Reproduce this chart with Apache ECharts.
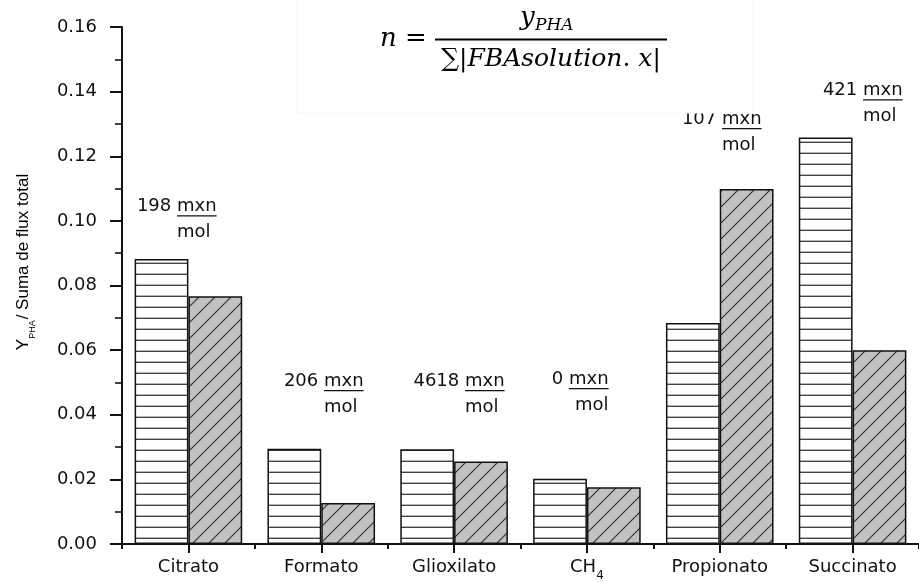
<!DOCTYPE html>
<html lang="es">
<head>
<meta charset="utf-8">
<title>Y PHA / Suma de flux total</title>
<script src="https://cdn.jsdelivr.net/npm/echarts@6/dist/echarts.min.js"></script>
<style>
  html, body { margin: 0; padding: 0; background: #fff; }
  #chart { width: 919px; height: 582px; }
</style>
</head>
<body>
<div id="chart"></div>
<script>
// Substrates on the category axis
const categories = ['Citrato', 'Formato', 'Glioxilato', 'CH4', 'Propionato', 'Succinato'];
// Y_PHA / total flux (striped bars)
const yieldStriped = [0.0882, 0.0295, 0.0293, 0.0202, 0.0684, 0.1258];
// Y_PHA / total flux (hatched bars)
const yieldHatched = [0.0767, 0.0127, 0.0255, 0.0176, 0.1099, 0.0600];
// mxn per mol, written above each pair of bars
const mxnPerMol = [198, 206, 4618, 0, 107, 421];
// value axis range and tick step
const yMin = 0, yMax = 0.16, yStep = 0.02;

// placement of the "N mxn / mol" notes: height in axis units and
// horizontal shift (px) of the word "mxn" from the category centre
const noteLevel = [0.1045, 0.0504, 0.0504, 0.0510, 0.1315, 0.1404];
const noteShift = [-11, 2.5, 11, -18, 2.5, 10];
const molShift = [0, 0, 0, 6, 0, 0];

const SANS = '"DejaVu Sans", sans-serif';
const INK = '#111';

// fill tiles: white with horizontal rules, grey with "/" hatching
function stripeTile() {
  const c = document.createElement('canvas');
  c.width = 4; c.height = 11;
  const g = c.getContext('2d');
  g.fillStyle = '#fff';
  g.fillRect(0, 0, 4, 11);
  g.strokeStyle = '#444';
  g.lineWidth = 1.4;
  g.beginPath(); g.moveTo(0, 10.3); g.lineTo(4, 10.3); g.stroke();
  return c;
}
function hatchTile() {
  const s = 16;
  const c = document.createElement('canvas');
  c.width = s; c.height = s;
  const g = c.getContext('2d');
  g.fillStyle = '#c2c2c2';
  g.fillRect(0, 0, s, s);
  g.strokeStyle = '#333';
  g.lineWidth = 1.2;
  g.beginPath();
  g.moveTo(0, s); g.lineTo(s, 0);
  g.moveTo(-2, 2); g.lineTo(2, -2);
  g.moveTo(s - 2, s + 2); g.lineTo(s + 2, s - 2);
  g.stroke();
  return c;
}

const measureCtx = document.createElement('canvas').getContext('2d');
function textWidth(t, font) { measureCtx.font = font; return measureCtx.measureText(t).width; }

const chart = echarts.init(document.getElementById('chart'), null, { renderer: 'canvas' });

const catLabelRich = {
  a: { fontFamily: SANS, fontSize: 18, color: INK, verticalAlign: 'top', lineHeight: 18 },
  s: { fontFamily: SANS, fontSize: 12, color: INK, verticalAlign: 'top', lineHeight: 12, padding: [12, 0, 0, 0] }
};

chart.setOption({
  animation: false,
  backgroundColor: '#fff',
  grid: { left: 122, top: 27, width: 802, height: 519, containLabel: false },
  xAxis: [
    {
      type: 'category',
      data: categories,
      gridIndex: 0,
      position: 'bottom',
      axisLine: { show: true, lineStyle: { color: INK, width: 2 } },
      axisTick: { show: true, alignWithLabel: true, length: 9, lineStyle: { color: INK, width: 2 } },
      axisLabel: {
        margin: 14,
        formatter: v => v === 'CH4' ? '{a|CH}{s|4}' : '{a|' + v + '}',
        rich: catLabelRich
      },
      splitLine: { show: false }
    },
    {
      // short ticks on the boundaries between substrates
      type: 'category',
      data: categories,
      gridIndex: 0,
      position: 'bottom',
      axisLine: { show: false },
      axisTick: { show: true, alignWithLabel: false, length: 5, lineStyle: { color: INK, width: 2 } },
      axisLabel: { show: false },
      splitLine: { show: false }
    }
  ],
  yAxis: {
    type: 'value',
    min: yMin,
    max: yMax,
    interval: yStep,
    axisLine: { show: true, lineStyle: { color: INK, width: 2 } },
    axisTick: { show: true, inside: false, length: 12, lineStyle: { color: INK, width: 2 } },
    minorTick: { show: true, splitNumber: 2, length: 7, lineStyle: { color: INK, width: 1.6 } },
    splitLine: { show: false },
    axisLabel: {
      margin: 25,
      fontFamily: SANS,
      fontSize: 18,
      color: INK,
      formatter: v => v.toFixed(2)
    }
  },
  series: [
    {
      type: 'bar',
      name: 'striped',
      data: yieldStriped,
      barGap: '0%',
      barCategoryGap: '19%',
      itemStyle: { color: { image: stripeTile(), repeat: 'repeat' }, borderColor: INK, borderWidth: 1.5 }
    },
    {
      type: 'bar',
      name: 'hatched',
      data: yieldHatched,
      barGap: '0%',
      barCategoryGap: '19%',
      itemStyle: { color: { image: hatchTile(), repeat: 'repeat' }, borderColor: INK, borderWidth: 1.5 }
    }
  ]
});

// annotations, axis title and the yield formula
const noteFont = '18px ' + SANS;
const mxnWidth = textWidth('mxn', noteFont);
const graphics = [];

categories.forEach((c, i) => {
  const p = chart.convertToPixel({ xAxisIndex: 0, yAxisIndex: 0 }, [i, noteLevel[i]]);
  const x = Math.round(p[0] + noteShift[i]);
  const y = p[1];
  const txt = { font: noteFont, fill: INK, verticalAlign: 'middle', textVerticalAlign: 'middle' };
  graphics.push({ type: 'text', z: 10, x: x, y: y,
    style: Object.assign({ text: mxnPerMol[i] + ' ', align: 'right', textAlign: 'right' }, txt) });
  graphics.push({ type: 'text', z: 10, x: x, y: y,
    style: Object.assign({ text: 'mxn', align: 'left', textAlign: 'left' }, txt) });
  graphics.push({ type: 'line', z: 10,
    shape: { x1: x, y1: y + 9.5, x2: x + mxnWidth, y2: y + 9.5 },
    style: { stroke: INK, lineWidth: 1.2 } });
  graphics.push({ type: 'text', z: 10, x: x + molShift[i], y: y + 26,
    style: Object.assign({ text: 'mol', align: 'left', textAlign: 'left' }, txt) });
});

// vertical axis title
graphics.push({
  type: 'text', z: 10, x: 15, y: 262, rotation: Math.PI / 2,
  style: {
    text: '{a|Y}{b|PHA}{a|/ Suma de flux total}',
    align: 'center', textAlign: 'center',
    verticalAlign: 'top', textVerticalAlign: 'top',
    rich: {
      a: { fontFamily: '"Liberation Sans", Arial, sans-serif', fontSize: 17, color: INK, verticalAlign: 'top', lineHeight: 17 },
      b: { fontFamily: '"Liberation Sans", Arial, sans-serif', fontSize: 9, color: INK, verticalAlign: 'top', lineHeight: 9, padding: [13, 1, 0, 0] }
    }
  }
});

// formula panel
const SERIF = '"DejaVu Serif", serif';
graphics.push({ type: 'rect', z: 20, shape: { x: 297, y: 0, width: 456, height: 113 },
  style: { fill: '#fff', stroke: '#f7f7f7', lineWidth: 1 } });
graphics.push({ type: 'text', z: 21, x: 380, y: 39,
  style: {
    text: '{i|n}{r| = }', align: 'left', textAlign: 'left', verticalAlign: 'middle', textVerticalAlign: 'middle',
    rich: {
      i: { fontFamily: SERIF, fontStyle: 'italic', fontSize: 26, color: '#000' },
      r: { fontFamily: SERIF, fontSize: 26, color: '#000' }
    }
  } });
graphics.push({ type: 'line', z: 21, shape: { x1: 435, y1: 39.5, x2: 667, y2: 39.5 },
  style: { stroke: '#000', lineWidth: 2 } });
graphics.push({ type: 'text', z: 21, x: 520, y: 18,
  style: { text: 'y', font: 'italic 26px ' + SERIF, fill: '#000', align: 'left', textAlign: 'left', verticalAlign: 'middle', textVerticalAlign: 'middle' } });
graphics.push({ type: 'text', z: 21, x: 535, y: 26,
  style: { text: 'PHA', font: 'italic 17px ' + SERIF, fill: '#000', align: 'left', textAlign: 'left', verticalAlign: 'middle', textVerticalAlign: 'middle' } });
graphics.push({ type: 'text', z: 21, x: 551, y: 59,
  style: {
    text: '{r|∑|}{i|FBAsolution}{r|. }{i|x}{r||}', align: 'center', textAlign: 'center', verticalAlign: 'middle', textVerticalAlign: 'middle',
    rich: {
      i: { fontFamily: SERIF, fontStyle: 'italic', fontSize: 25, color: '#000' },
      r: { fontFamily: SERIF, fontSize: 25, color: '#000' }
    }
  } });

chart.setOption({ graphic: { elements: graphics } });
</script>
</body>
</html>
